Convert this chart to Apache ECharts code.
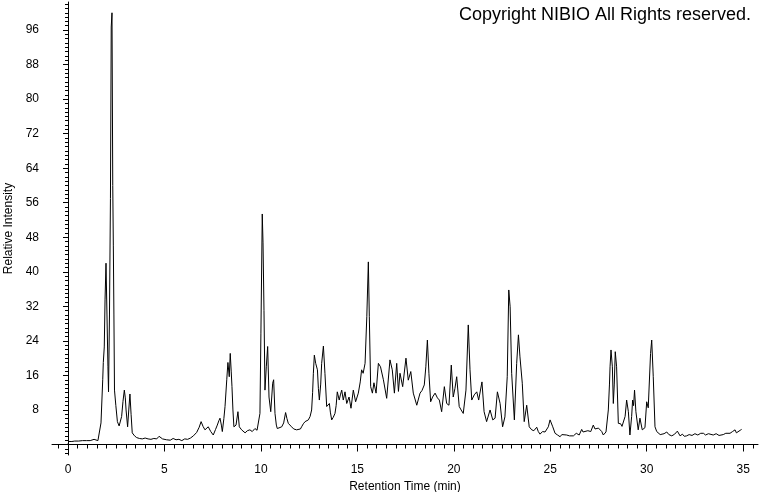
<!DOCTYPE html>
<html>
<head>
<meta charset="utf-8">
<script src="https://cdn.jsdelivr.net/npm/echarts@6/dist/echarts.min.js"></script>
<style>
  html, body { margin: 0; padding: 0; background: #fff; }
  #chart { width: 760px; height: 492px; }
</style>
</head>
<body>
<div id="chart"></div>
<script>
// Retention time (min)
var retentionTime = [
  0.00,0.05,0.12,0.20,0.28,0.35,0.45,0.55,0.65,0.75,0.85,0.95,1.05,1.15,1.25,1.35,1.45,1.55,1.65,
  1.71,1.80,1.83,1.88,1.92,1.97,2.02,2.07,2.10,2.15,2.20,2.24,2.28,2.32,2.35,2.38,2.41,2.48,2.56,2.65,2.70,
  2.78,2.85,2.92,2.97,3.01,3.09,3.15,3.21,3.27,3.33,3.45,3.56,3.70,3.85,4.00,4.15,4.30,4.45,4.60,4.72,
  4.80,4.90,5.00,5.10,5.20,5.30,5.45,5.60,5.75,5.90,6.05,6.20,6.35,6.50,6.60,6.67,6.80,6.90,7.00,7.10,
  7.20,7.27,7.40,7.53,7.65,7.74,7.82,7.88,7.95,8.00,8.08,8.14,8.23,8.29,8.36,8.41,8.46,8.50,8.55,8.60,
  8.71,8.81,8.88,9.00,9.10,9.18,9.30,9.43,9.55,9.69,9.80,9.87,9.95,10.00,10.07,10.11,10.16,10.21,10.28,10.35,
  10.42,10.51,10.61,10.66,10.73,10.80,10.85,10.95,11.08,11.18,11.28,11.35,11.42,11.50,11.59,11.70,11.85,11.95,12.05,12.11,
  12.20,12.29,12.38,12.46,12.55,12.63,12.68,12.72,12.77,12.84,12.93,12.98,13.03,13.10,13.15,13.24,13.32,13.41,13.55,13.60,
  13.67,13.75,13.84,13.90,13.96,14.06,14.12,14.19,14.27,14.36,14.45,14.57,14.67,14.79,14.91,15.05,15.15,15.22,15.30,15.40,
  15.49,15.57,15.62,15.69,15.78,15.86,15.97,16.09,16.20,16.35,16.52,16.69,16.81,16.92,17.04,17.13,17.21,17.35,17.52,17.64,
  17.77,17.90,18.08,18.25,18.35,18.47,18.55,18.63,18.71,18.80,18.90,19.03,19.15,19.25,19.37,19.51,19.63,19.75,19.87,19.97,
  20.06,20.15,20.28,20.38,20.49,20.63,20.75,20.84,20.93,21.06,21.19,21.29,21.46,21.57,21.70,21.88,22.02,22.14,22.26,22.40,
  22.53,22.65,22.77,22.85,22.92,23.00,23.14,23.26,23.35,23.43,23.55,23.65,23.78,23.91,24.04,24.15,24.30,24.38,24.47,24.60,
  24.73,24.90,24.99,25.13,25.25,25.38,25.51,25.60,25.70,25.85,26.00,26.10,26.20,26.35,26.50,26.63,26.70,26.80,26.95,27.10,
  27.23,27.32,27.40,27.50,27.58,27.67,27.75,27.89,28.01,28.07,28.10,28.15,28.22,28.27,28.32,28.37,28.44,28.53,28.65,28.72,
  28.79,28.88,28.96,29.05,29.13,29.22,29.27,29.32,29.37,29.44,29.56,29.65,29.77,29.91,30.00,30.08,30.20,30.26,30.34,30.43,
  30.52,30.60,30.70,30.78,30.90,31.04,31.15,31.30,31.45,31.59,31.73,31.85,31.95,32.07,32.20,32.35,32.50,32.65,32.80,32.94,
  33.05,33.20,33.30,33.45,33.60,33.75,33.85,33.97,34.10,34.20,34.32,34.45,34.58,34.65,34.75,34.85,34.92
];
// Relative intensity (%)
var relIntensity = [
  0.2,0.7,0.9,0.7,1.0,0.8,1.0,0.8,1.1,0.9,1.1,0.9,1.2,0.9,1.0,1.2,0.8,0.9,1.0,
  5.0,15.0,19.0,22.6,33.5,42.0,30,18,12.2,30,57,96.7,100,60,46,30,12.6,9,5.3,4.3,4.5,
  6.5,10,12.6,10.8,8,4.1,8,11.7,7,2.7,2.0,1.6,1.4,1.3,1.5,1.3,1.2,1.4,1.3,1.9,
  1.7,1.3,1.6,1.1,1.3,1.0,1.4,1.1,1.2,0.9,1.3,1.2,1.5,2.0,2.4,2.8,4.0,5.3,4.2,3.4,
  3.8,4.1,3.0,2.2,3.5,4.5,5.5,6.1,4.5,3.0,6,8.8,15,19,15.7,21.1,17,13.4,8,4.1,
  4.5,7.6,4.1,3.4,3.0,2.7,3.2,3.4,3.0,3.7,3.3,3.0,7.2,25.8,53.4,46.7,31,12.6,18,22.7,
  11,7.6,14.2,15,7.2,4.5,3.7,3.4,4.1,5.0,7.4,6.0,4.9,4.5,4.1,3.6,3.4,3.8,3.6,4.1,
  4.8,5.3,5.0,5.7,6.5,8.0,12,16.5,20.7,18.8,17.3,13,10.3,14,18.8,22.8,16.5,8.8,9.5,7.5,
  5.7,6.3,7.2,9,12.2,10.3,11.5,12.6,10.3,12.2,9.5,11,8.4,12.6,9.9,11.9,14.5,17.3,16.5,18.8,
  29.6,42.3,29.6,13.4,11.9,14.3,11.9,18.8,18,15,10.7,19.6,17.3,11.9,18.8,12.3,16.5,13.4,20,14.9,
  16.9,11.9,9.1,11.9,12.5,13.8,18,24.2,16.5,9.9,11,11.9,10.8,10.3,7.6,13.4,9.5,9.1,18.4,11,
  13,15.7,8.8,8.0,7.2,12.6,27.7,17.3,10.3,11.5,12.2,10.3,14.5,7.6,5.3,8.0,5.7,6.1,12.2,9.5,
  4.1,6.4,15.7,35.8,31.9,16.5,5.7,18.8,25.4,20.3,14.2,5.3,9.1,4.1,3.4,3.2,4.0,3.0,2.4,3.0,
  2.9,4.1,5.7,4.1,2.6,2.2,1.8,2.3,2.0,2.2,2.0,2.4,2.0,2.6,2.2,3.5,2.9,2.6,3.2,3.0,
  4.5,3.6,3.4,3.8,3.5,3.0,2.2,2.9,8,14,18,21.9,18,9.5,14,21.5,18,4.9,4.8,4.2,
  3.8,6.5,10.3,7.6,2.2,6.5,10.3,9,12.6,7.6,3.4,6.1,3.4,3.9,9.9,8.5,21.1,24.2,15.7,4.1,
  3.0,2.6,2.3,2.0,2.5,2.9,2.3,2.0,2.4,3.1,2.0,2.4,1.9,2.0,2.3,2.1,2.5,2.2,2.6,2.6,
  2.2,2.5,2.1,2.2,2.5,2.1,2.4,2.3,2.6,2.4,2.6,3.0,3.4,2.7,2.9,3.3,3.5
];
// Tick labels
var yTickLabels = [8, 16, 24, 32, 40, 48, 56, 64, 72, 80, 88, 96];
var xTickLabels = [0, 5, 10, 15, 20, 25, 30, 35];
var yMajorTicks = [0, 8, 16, 24, 32, 40, 48, 56, 64, 72, 80, 88, 96];

var yMinorTicks = [];
for (var i = -2; i <= 102; i++) yMinorTicks.push(i);
var xMinorTicks = [];
for (var j = -0.5; j <= 35.5; j += 0.5) xMinorTicks.push(j);

var seriesData = retentionTime.map(function (t, k) { return [t, relIntensity[k]]; });

var FONT = 'Arial, "Liberation Sans", sans-serif';
var X_MIN = -0.83, X_MAX = 35.77, Y_MIN = -2.43, Y_MAX = 102.5;

var chart = echarts.init(document.getElementById('chart'), null, { renderer: 'canvas' });
chart.setOption({
  animation: false,
  backgroundColor: '#ffffff',
  title: {
    text: 'Copyright NIBIO All Rights reserved.',
    right: 4, top: 1,
    textStyle: { fontFamily: FONT, fontSize: 18, fontWeight: 'normal', color: '#000' }
  },
  grid: { left: 52, right: 2, top: 2, bottom: 37, containLabel: false, outerBoundsMode: 'none' },
  xAxis: [{
    type: 'value', min: X_MIN, max: X_MAX,
    name: 'Retention Time (min)', nameLocation: 'middle', nameGap: 22,
    nameTextStyle: { fontFamily: FONT, fontSize: 12, color: '#000' },
    axisLine: { lineStyle: { color: '#000', width: 1 } },
    axisTick: { show: true, length: 7, customValues: xTickLabels, lineStyle: { color: '#000' } },
    axisLabel: { customValues: xTickLabels, margin: 9, fontFamily: FONT, fontSize: 12, color: '#000' },
    splitLine: { show: false }
  }, {
    type: 'value', min: X_MIN, max: X_MAX, position: 'bottom',
    axisLine: { show: false },
    axisTick: { show: true, length: 4, customValues: xMinorTicks, lineStyle: { color: '#000' } },
    axisLabel: { show: false },
    splitLine: { show: false }
  }],
  yAxis: [{
    type: 'value', min: Y_MIN, max: Y_MAX,
    name: 'Relative Intensity', nameLocation: 'middle', nameGap: 35, nameRotate: 90,
    nameTextStyle: { fontFamily: FONT, fontSize: 12, color: '#000' },
    axisLine: { show: true, lineStyle: { color: '#000', width: 1 } },
    axisTick: { show: true, length: 5, customValues: yMajorTicks, lineStyle: { color: '#000' } },
    axisLabel: { customValues: yTickLabels, margin: 13, fontFamily: FONT, fontSize: 12, color: '#000' },
    splitLine: { show: false }
  }, {
    type: 'value', min: Y_MIN, max: Y_MAX, position: 'left',
    axisLine: { show: false },
    axisTick: { show: true, length: 3, customValues: yMinorTicks, lineStyle: { color: '#000' } },
    axisLabel: { show: false },
    splitLine: { show: false }
  }],
  series: [{
    type: 'line',
    xAxisIndex: 0, yAxisIndex: 0,
    data: seriesData,
    showSymbol: false,
    lineStyle: { color: '#000', width: 1 },
    clip: true
  }]
});
</script>
</body>
</html>
